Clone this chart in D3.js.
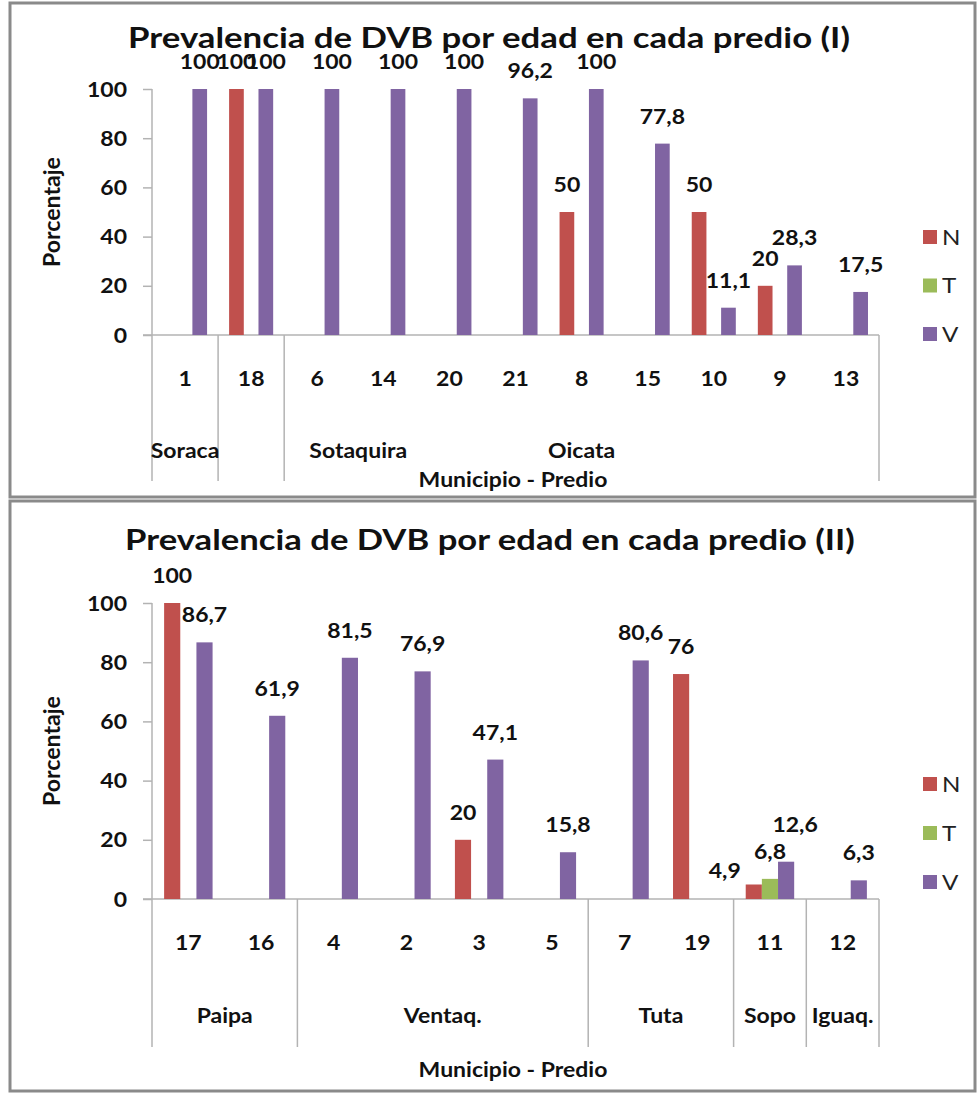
<!DOCTYPE html>
<html>
<head>
<meta charset="utf-8">
<script src="https://cdn.jsdelivr.net/npm/d3@7"></script>
<style>
  html, body { margin: 0; padding: 0; background: #fff; }
  svg { display: block; font-family: Lato, "Open Sans", sans-serif; }
</style>
</head>
<body>
<svg id="chart" width="980" height="1093"></svg>
<script>
// ---- Data: chart I ----
const titleI = "Prevalencia de DVB por edad en cada predio (I)";
const prediosI = ["1", "18", "6", "14", "20", "21", "8", "15", "10", "9", "13"];
const nI = [null, 100, null, null, null, null, 50, null, 50, 20, null];
const tI = [null, null, null, null, null, null, null, null, null, null, null];
const vI = [100, 100, 100, 100, 100, 96.2, 100, 77.8, 11.1, 28.3, 17.5];
// municipality boundaries (category index after which a divider is drawn)
const dividersI = [0, 1];
const municipiosI = ["Soraca", "Sotaquira", "Oicata"];
const municipioAnchorsI = [0, 2.62, 6];

// ---- Data: chart II ----
const titleII = "Prevalencia de DVB por edad en cada predio (II)";
const prediosII = ["17", "16", "4", "2", "3", "5", "7", "19", "11", "12"];
const nII = [100, null, null, null, 20, null, null, 76, 4.9, null];
const tII = [null, null, null, null, null, null, null, null, 6.8, null];
const vII = [86.7, 61.9, 81.5, 76.9, 47.1, 15.8, 80.6, null, 12.6, 6.3];
const municipiosII = ["Paipa", "Ventaq.", "Tuta", "Sopo", "Iguaq."];
const municipioSpansII = [[0, 1], [2, 5], [6, 7], [8, 8], [9, 9]];

const seriesNames = ["N", "T", "V"];
const yTicks = [0, 20, 40, 60, 80, 100];
const yTitle = "Porcentaje";
const xTitle = "Municipio - Predio";

// ---- Styles ----
const colors = { N: "#C0504D", T: "#9BBB59", V: "#8064A2" };
const axisColor = "#b3b3b3";
const SX = 1.15; // horizontal stretch applied to text

const svg = d3.select("#chart");
svg.append("rect").attr("width", 980).attr("height", 1093).attr("fill", "#fff");

function stretched(sel, x, y, sx) {
  return sel.attr("transform", `translate(${x},${y}) scale(${sx},1)`);
}
const fmt = v => String(v).replace(".", ",");

function drawChart(cfg) {
  const g = svg.append("g");

  // frame
  g.append("rect")
    .attr("x", cfg.frame[0]).attr("y", cfg.frame[1])
    .attr("width", cfg.frame[2]).attr("height", cfg.frame[3])
    .attr("fill", "none").attr("stroke", "#8a8a8a").attr("stroke-width", 3);

  const x = d3.scaleBand().domain(cfg.predios).range([152, 879]).padding(0);
  const y = d3.scaleLinear().domain([0, 100]).range([cfg.y0, cfg.y100]);
  const bw = x.bandwidth() / 4.5;
  const xs = d3.scaleBand().domain(seriesNames).range([-1.5 * bw, 1.5 * bw]);

  // title
  const title = g.append("text").text(cfg.title)
    .attr("text-anchor", "middle").attr("font-size", 29).attr("font-weight", 700)
    .attr("fill", "#111");
  const tl = title.node().getComputedTextLength();
  stretched(title, cfg.titleX, cfg.titleY, cfg.titleW / tl);

  // y axis via d3.axisLeft
  const yAxis = g.append("g").attr("transform", "translate(152,0)")
    .call(d3.axisLeft(y).tickValues(yTicks).tickSize(9).tickPadding(0).tickFormat(d => d));
  yAxis.select(".domain").attr("stroke", axisColor).attr("stroke-width", 1.5)
    .attr("d", `M0,${cfg.y100}V${cfg.y0}`);
  yAxis.selectAll(".tick line").attr("stroke", axisColor).attr("stroke-width", 1.5);
  yAxis.selectAll(".tick text").each(function () {
    const t = d3.select(this);
    t.attr("x", null).attr("dy", null)
      .attr("font-size", 20).attr("font-weight", 700).attr("fill", "#111")
      .attr("font-family", "Lato, sans-serif").attr("text-anchor", "end");
    stretched(t, -25, 7, SX);
  });

  // baseline and vertical group lines
  g.append("line").attr("x1", 143).attr("x2", 879).attr("y1", cfg.y0).attr("y2", cfg.y0)
    .attr("stroke", axisColor).attr("stroke-width", 1.5);
  const lineXs = [152, ...cfg.dividers.map(i => x(cfg.predios[i]) + x.bandwidth()), 879];
  g.selectAll("line.div").data(lineXs).join("line").attr("class", "div")
    .attr("x1", d => d).attr("x2", d => d)
    .attr("y1", cfg.y0).attr("y2", cfg.divBottom)
    .attr("stroke", axisColor).attr("stroke-width", 1.5);

  // bars
  const seriesData = { N: cfg.n, T: cfg.t, V: cfg.v };
  const bars = [];
  seriesNames.forEach(s => seriesData[s].forEach((v, i) => {
    if (v != null) bars.push({ s, i, v, p: cfg.predios[i] });
  }));
  g.selectAll("rect.bar").data(bars).join("rect").attr("class", "bar")
    .attr("x", d => x(d.p) + x.bandwidth() / 2 + xs(d.s))
    .attr("width", xs.bandwidth())
    .attr("y", d => y(d.v))
    .attr("height", d => y(0) - y(d.v))
    .attr("fill", d => colors[d.s]);

  // data labels
  g.selectAll("text.val").data(bars).join("text").attr("class", "val")
    .text(d => fmt(d.v))
    .attr("text-anchor", "middle").attr("font-size", 20).attr("font-weight", 700)
    .attr("fill", "#111")
    .each(function (d) {
      const nud = (cfg.nudge[d.s + d.p]) || [0, 0];
      stretched(d3.select(this),
        x(d.p) + x.bandwidth() / 2 + xs(d.s) + xs.bandwidth() / 2 + nud[0],
        y(d.v) - 20 + nud[1], SX);
    });

  // category labels
  g.selectAll("text.cat").data(cfg.predios).join("text").attr("class", "cat")
    .text(d => d)
    .attr("text-anchor", "middle").attr("font-size", 20).attr("font-weight", 700)
    .attr("fill", "#111")
    .each(function (d) {
      stretched(d3.select(this), x(d) + x.bandwidth() / 2, cfg.catY, SX);
    });

  // municipality labels
  g.selectAll("text.mun").data(cfg.munis).join("text").attr("class", "mun")
    .text(d => d.name)
    .attr("text-anchor", "middle").attr("font-size", 20).attr("font-weight", 700)
    .attr("fill", "#111")
    .each(function (d) {
      stretched(d3.select(this), 152 + x.step() * (d.at + 0.5), cfg.munY, SX);
    });

  // axis titles
  stretched(g.append("text").text(xTitle)
    .attr("text-anchor", "middle").attr("font-size", 20).attr("font-weight", 700)
    .attr("fill", "#111"), 513, cfg.xTitleY, SX);
  g.append("text").text(yTitle)
    .attr("text-anchor", "middle").attr("font-size", 21).attr("font-weight", 700)
    .attr("fill", "#111")
    .attr("transform", `translate(60,${(cfg.y0 + cfg.y100) / 2}) rotate(-90) scale(1.1,1.12)`);

  // legend
  const leg = g.selectAll("g.leg").data(seriesNames).join("g").attr("class", "leg")
    .attr("transform", (d, i) => `translate(923,${cfg.legY + i * cfg.legStep})`);
  leg.append("rect").attr("x", 0).attr("y", -7).attr("width", 14).attr("height", 14)
    .attr("fill", d => colors[d]);
  leg.append("text").text(d => d).attr("font-size", 21).attr("fill", "#222")
    .attr("transform", `translate(19,7.5) scale(${SX},1)`);
}

drawChart({
  frame: [10, 3, 965, 494],
  title: titleI, titleX: 489, titleY: 48, titleW: 722,
  predios: prediosI, n: nI, t: tI, v: vI,
  y0: 335, y100: 89,
  dividers: dividersI, divBottom: 481,
  munis: municipiosI.map((name, i) => ({ name, at: municipioAnchorsI[i] })),
  catY: 386, munY: 458, xTitleY: 487,
  legY: 237, legStep: 48.5,
  nudge: {}
});

drawChart({
  frame: [10, 501, 965, 590],
  title: titleII, titleX: 490, titleY: 550, titleW: 730,
  predios: prediosII, n: nII, t: tII, v: vII,
  y0: 899, y100: 603,
  dividers: municipioSpansII.slice(0, -1).map(s => s[1]), divBottom: 1047,
  munis: municipiosII.map((name, i) => ({ name, at: (municipioSpansII[i][0] + municipioSpansII[i][1]) / 2 })),
  catY: 950, munY: 1023, xTitleY: 1077,
  legY: 784, legStep: 49,
  nudge: { "N11": [-29, 14], "V11": [9, -10] }
});
</script>
</body>
</html>
